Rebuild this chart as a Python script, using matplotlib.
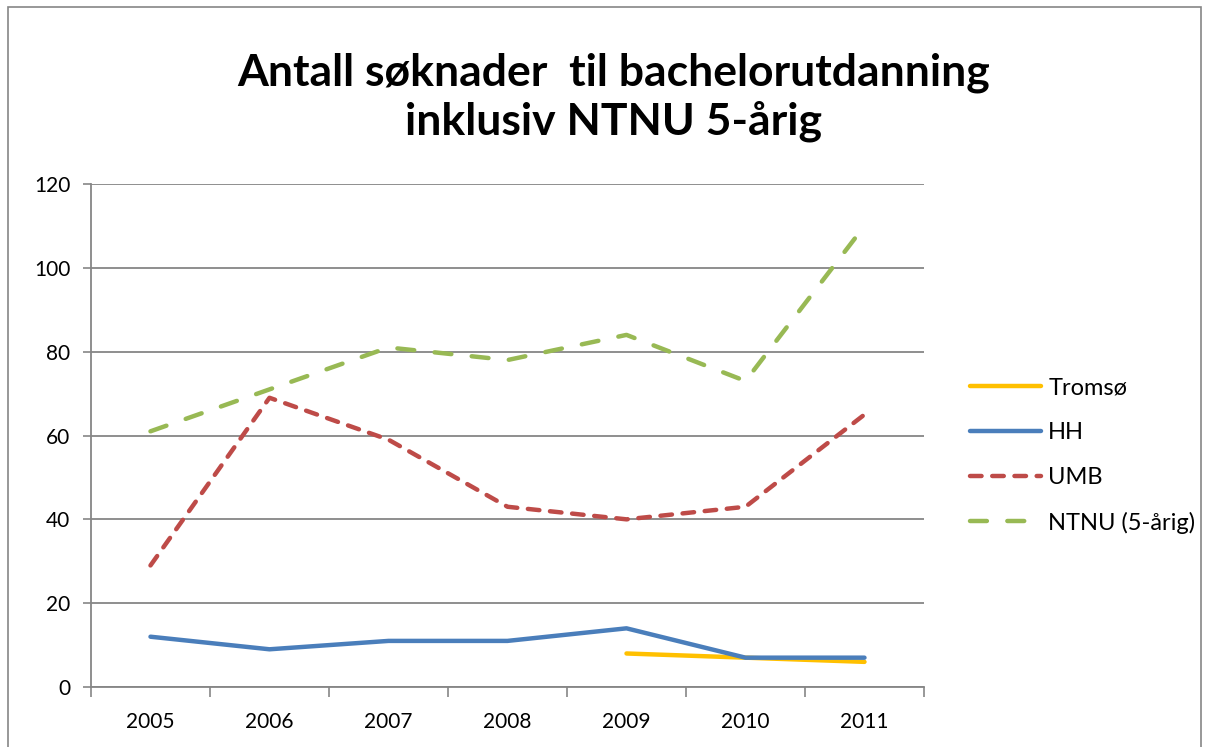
import matplotlib.pyplot as plt
from matplotlib.patches import Rectangle

# Data
years = ['2005', '2006', '2007', '2008', '2009', '2010', '2011']
tromso = [None, None, None, None, 8, 7, 6]
hh = [12, 9, 11, 11, 14, 7, 7]
umb = [29, 69, 59, 43, 40, 43, 65]
ntnu = [61, 71, 81, 78, 84, 73, 110]
y_ticks = [0, 20, 40, 60, 80, 100, 120]

plt.rcParams['font.family'] = ['Lato', 'DejaVu Sans']

fig = plt.figure(figsize=(12.05, 7.47), dpi=100)
ax = fig.add_axes([0.0755, 0.0803, 0.6913, 0.6734])

x = list(range(len(years)))
t_x = [i for i, v in zip(x, tromso) if v is not None]
t_y = [v for v in tromso if v is not None]

ax.plot(t_x, t_y, color='#FFC000', lw=3.2, solid_capstyle='round', label='Tromsø', zorder=3)
ax.plot(x, hh, color='#4A7EBB', lw=3.2, solid_capstyle='round', label='HH', zorder=4)
ax.plot(x, umb, color='#BE4B48', lw=3.2, dashes=(2.6, 2.4), dash_capstyle='round',
        label='UMB', zorder=3)
ax.plot(x, ntnu, color='#98B954', lw=3.2, dashes=(3.8, 4.6), dash_capstyle='round',
        label='NTNU (5-årig)', zorder=3)

ax.set_xlim(-0.5, len(years) - 0.5)
ax.set_ylim(0, 120)
ax.set_yticks(y_ticks)
ax.set_yticklabels([str(v) for v in y_ticks], fontsize=15)
ax.set_xticks(x)
ax.set_xticklabels(years, fontsize=15)
ax.set_xticks([i - 0.5 for i in range(len(years) + 1)], minor=True)
ax.tick_params(axis='x', which='major', length=0, pad=18)
ax.tick_params(axis='x', which='minor', length=7, color='#868686', width=1.2)
ax.tick_params(axis='y', length=6, color='#868686', width=1.2, pad=9)

ax.grid(axis='y', color='#868686', lw=1.3)
ax.set_axisbelow(True)
for side in ['top', 'right']:
    ax.spines[side].set_visible(False)
for side in ['left', 'bottom']:
    ax.spines[side].set_color('#868686')
    ax.spines[side].set_linewidth(1.3)

fig.text(0.509, 0.87, 'Antall søknader  til bachelorutdanning\ninklusiv NTNU 5-årig',
         ha='center', va='center', fontsize=32, fontweight='bold', linespacing=1.2)

ax.legend(loc='center left', bbox_to_anchor=(1.03, 0.46), frameon=False, fontsize=17,
          handlelength=3.0, labelspacing=1.0, handletextpad=0.3)

fig.patches.append(Rectangle((0.007, -0.01), 0.99, 1.0, transform=fig.transFigure,
                             fill=False, edgecolor='#868686', lw=1.2))

fig.savefig('out.png', dpi=100)
